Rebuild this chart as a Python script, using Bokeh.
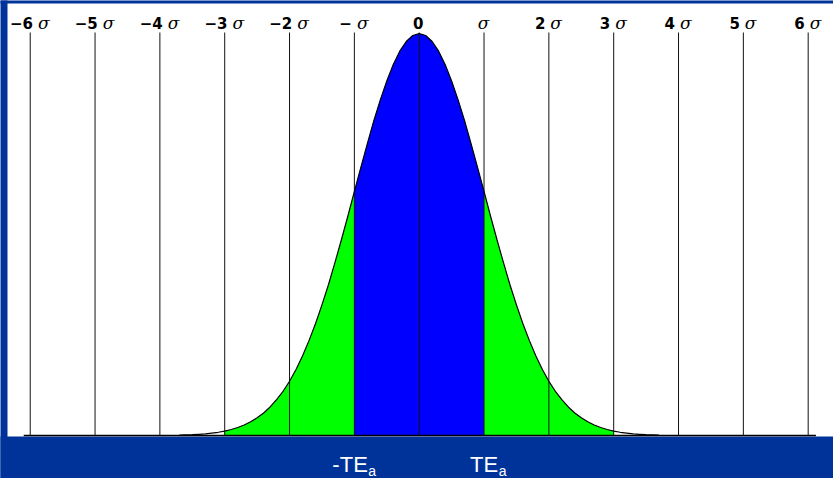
from bokeh.plotting import figure
from bokeh.models import Range1d, ColumnDataSource
from bokeh.core.properties import value
from bokeh.embed import file_html
from bokeh.resources import INLINE

# ---------------- data ----------------
sigma_ticks = [-6, -5, -4, -3, -2, -1, 0, 1, 2, 3, 4, 5, 6]
tick_labels = ["−6 σ", "−5 σ", "−4 σ", "−3 σ", "−2 σ", "−σ", "0",
               "σ", "2 σ", "3 σ", "4 σ", "5 σ", "6 σ"]

# right half of the bell curve: position (in σ) and height relative to the peak
half_x = [0.0, 0.1, 0.2, 0.3, 0.4, 0.5, 0.6, 0.7, 0.8, 0.9,
          1.0, 1.1, 1.2, 1.3, 1.4, 1.5, 1.6, 1.7, 1.8, 1.9,
          2.0, 2.1, 2.2, 2.3, 2.4, 2.5, 2.6, 2.7, 2.8, 2.9,
          3.0, 3.1, 3.2, 3.3, 3.4, 3.5, 3.6, 3.7]
half_h = [1.000, 0.995, 0.980, 0.956, 0.923, 0.882, 0.835, 0.783, 0.726, 0.667,
          0.607, 0.546, 0.487, 0.430, 0.375, 0.325, 0.278, 0.236, 0.198, 0.164,
          0.135, 0.110, 0.089, 0.071, 0.056, 0.044, 0.034, 0.026, 0.020, 0.015,
          0.011, 0.008, 0.006, 0.004, 0.003, 0.002, 0.0015, 0.001]

green_limits = (-3.0, 3.0)
blue_limits = (-1.0, 1.0)

te_labels = ["-TE", "TE"]
te_subs = ["a", "a"]
te_pos = [-1, 1]

baseline_x = [-6.10, 6.12]

# ---------------- geometry ----------------
W, H = 833, 478
PX_X = 64.83          # pixels per sigma
X0 = 418.7            # pixel of sigma = 0
PX_Y = 402.0          # pixels per unit height
BASE = 435.0          # pixel (from top) of the baseline
PEAK = 33.0           # pixel of the peak

x_start = -X0 / PX_X
x_end = (W - X0) / PX_X
y_start = -(H - BASE) / PX_Y
y_end = 1 + PEAK / PX_Y

def px_to_y(py):
    return (BASE - py) / PX_Y

def px_to_x(px):
    return (px - X0) / PX_X

BG_BLUE = "#003399"

p = figure(width=W, height=H, output_backend="svg", toolbar_location=None,
           x_range=Range1d(x_start, x_end), y_range=Range1d(y_start, y_end),
           x_axis_location=None, y_axis_location=None,
           min_border=0, min_border_left=0, min_border_right=0,
           min_border_top=0, min_border_bottom=0)
p.grid.visible = False
p.outline_line_color = None
p.background_fill_color = "white"
p.border_fill_color = BG_BLUE

# blue frame: bottom band, top strip, left strip
p.quad(left=[x_start - 1], right=[x_end + 1], bottom=[y_start - 1],
       top=[px_to_y(436)], fill_color=BG_BLUE, line_color=None)
p.quad(left=[x_start - 1], right=[x_end + 1], bottom=[px_to_y(3)],
       top=[y_end + 1], fill_color=BG_BLUE, line_color=None)
p.quad(left=[x_start - 1], right=[px_to_x(7)], bottom=[y_start - 1],
       top=[y_end + 1], fill_color=BG_BLUE, line_color=None)

# full curve
cx = [-v for v in half_x[::-1]] + half_x[1:]
ch = half_h[::-1] + half_h[1:]

def subset(lo, hi):
    xs, hs = [], []
    for a, b in zip(cx, ch):
        if lo - 1e-9 <= a <= hi + 1e-9:
            xs.append(a)
            hs.append(b)
    return xs, hs

gx, gh = subset(*green_limits)
p.varea(x=gx, y1=[0] * len(gx), y2=gh, fill_color="#00FF00")
bx, bh = subset(*blue_limits)
p.varea(x=bx, y1=[0] * len(bx), y2=bh, fill_color="#0000FF")

# vertical sigma lines
top_line = px_to_y(32)
p.segment(x0=sigma_ticks, y0=[0] * len(sigma_ticks), x1=sigma_ticks,
          y1=[top_line] * len(sigma_ticks), line_color="#111111", line_width=1)

# curve outline
p.line(cx, ch, line_color="black", line_width=1.2)

# baseline
p.line(baseline_x, [0, 0], line_color="black", line_width=1.6)

# top labels: bold sans number + italic serif sigma
NUM_SIZE = 15
SIG_SIZE = 17
def num_width(s):
    w = 0.0
    for c in s:
        w += (0.838 if c == "−" else 0.696) * NUM_SIZE
    return w
SIG_W = 10.5
GAP = 5.0

nums, sigs, off_n, off_s = [], [], [], []
for lab in tick_labels:
    has_sig = "σ" in lab
    num = lab.replace(" σ", "").replace("σ", "")
    wn = num_width(num)
    total = wn + (SIG_W if has_sig else 0) + (GAP if (has_sig and num) else 0)
    left = -total / 2 - 1
    nums.append(num)
    sigs.append("σ" if has_sig else "")
    off_n.append(left)
    off_s.append(left + wn + (GAP if num else 0))

label_y = px_to_y(22)
src = ColumnDataSource(dict(x=sigma_ticks, y=[label_y] * len(sigma_ticks),
                            num=nums, sig=sigs, off_n=off_n, off_s=off_s))
p.text(x="x", y="y", text="num", x_offset="off_n", source=src,
       text_font=value("DejaVu Sans"), text_font_style="bold",
       text_font_size=f"{NUM_SIZE}px", text_color="black",
       text_align="left", text_baseline="alphabetic")
p.text(x="x", y="y", text="sig", x_offset="off_s", source=src,
       text_font=value("DejaVu Serif"), text_font_style="italic",
       text_font_size=f"{SIG_SIZE}px", text_color="black",
       text_align="left", text_baseline="alphabetic")

# bottom labels -TE_a and TE_a
MAIN_SIZE = 22
SUB_SIZE = 14
char_w = {"-": 0.333, "T": 0.611, "E": 0.667}
te_dx = [-22, -14]
main_w = [sum(char_w[c] for c in s) * MAIN_SIZE for s in te_labels]
sub_off = [d + w + 0.5 for d, w in zip(te_dx, main_w)]
main_y = px_to_y(464)
sub_y = px_to_y(470)
tsrc = ColumnDataSource(dict(x=te_pos, ym=[main_y] * 2, ys=[sub_y] * 2,
                             main=te_labels, sub=te_subs, dm=te_dx, ds=sub_off))
p.text(x="x", y="ym", text="main", x_offset="dm", source=tsrc,
       text_font=value("Liberation Sans"), text_font_size=f"{MAIN_SIZE}px",
       text_color="white", text_align="left", text_baseline="alphabetic")
p.text(x="x", y="ys", text="sub", x_offset="ds", source=tsrc,
       text_font=value("Liberation Sans"), text_font_size=f"{SUB_SIZE}px",
       text_color="white", text_align="left", text_baseline="alphabetic")

open("out.html", "w").write(file_html(p, INLINE))
